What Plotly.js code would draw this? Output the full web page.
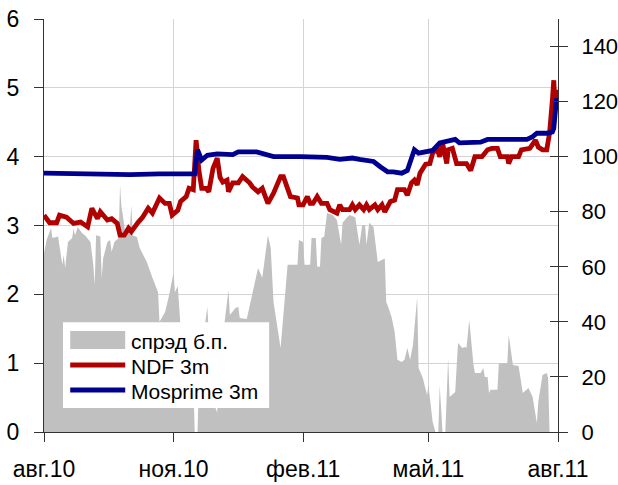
<!DOCTYPE html>
<html>
<head>
<meta charset="utf-8">
<script src="https://cdn.plot.ly/plotly-3.0.1.min.js"></script>
<style>html,body{margin:0;padding:0;background:#fff;}#chart{width:618px;height:485px;}</style>
</head>
<body>
<div id="chart"></div>
<script>
var tickDates = ["2010-08-01","2010-11-01","2011-02-01","2011-05-01","2011-08-01"];
var tickLabels = ["авг.10","ноя.10","фев.11","май.11","авг.11"];

var spreadName = "спрэд б.п.";
var spreadDates = ["2010-08-01","2010-08-03","2010-08-06","2010-08-07","2010-08-11","2010-08-14","2010-08-15","2010-08-16","2010-08-18","2010-08-21","2010-08-22","2010-08-23","2010-08-25","2010-08-28","2010-08-30","2010-09-03","2010-09-05","2010-09-06","2010-09-07","2010-09-10","2010-09-11","2010-09-12","2010-09-15","2010-09-17","2010-09-18","2010-09-20","2010-09-23","2010-09-24","2010-09-25","2010-09-26","2010-09-28","2010-09-29","2010-10-01","2010-10-02","2010-10-03","2010-10-06","2010-10-08","2010-10-13","2010-10-17","2010-10-21","2010-10-22","2010-10-26","2010-10-29","2010-11-01","2010-11-02","2010-11-04","2010-11-06","2010-11-10","2010-11-13","2010-11-15","2010-11-16","2010-11-18","2010-11-19","2010-11-21","2010-11-23","2010-11-25","2010-11-26","2010-11-29","2010-11-30","2010-12-02","2010-12-03","2010-12-07","2010-12-10","2010-12-11","2010-12-15","2010-12-17","2010-12-18","2010-12-23","2010-12-27","2010-12-31","2011-01-03","2011-01-07","2011-01-09","2011-01-11","2011-01-16","2011-01-19","2011-01-21","2011-01-28","2011-01-29","2011-02-01","2011-02-02","2011-02-06","2011-02-07","2011-02-10","2011-02-11","2011-02-13","2011-02-14","2011-02-16","2011-02-18","2011-02-22","2011-02-25","2011-02-28","2011-03-01","2011-03-04","2011-03-06","2011-03-10","2011-03-13","2011-03-15","2011-03-17","2011-03-18","2011-03-20","2011-03-23","2011-03-26","2011-03-31","2011-04-01","2011-04-02","2011-04-05","2011-04-07","2011-04-09","2011-04-12","2011-04-14","2011-04-16","2011-04-18","2011-04-20","2011-04-23","2011-04-24","2011-04-27","2011-04-30","2011-05-01","2011-05-04","2011-05-06","2011-05-08","2011-05-09","2011-05-11","2011-05-13","2011-05-15","2011-05-16","2011-05-20","2011-05-22","2011-05-25","2011-05-27","2011-05-28","2011-05-30","2011-06-02","2011-06-03","2011-06-07","2011-06-09","2011-06-10","2011-06-12","2011-06-13","2011-06-14","2011-06-19","2011-06-20","2011-06-26","2011-06-27","2011-06-30","2011-07-04","2011-07-07","2011-07-11","2011-07-14","2011-07-17","2011-07-18","2011-07-21","2011-07-24","2011-07-25","2011-07-26","2011-08-01"];
var spreadValues = [65,70,74,70.5,71,60.7,64.3,59.6,69,70.5,74,71.5,74.5,72.3,71.5,69,60.7,53.4,71.5,71,56,63,69,69.7,65.4,69,70.5,89.7,81.7,78.8,70.8,74.5,74,82.4,71.5,70.8,66.8,61.7,56,50.8,40,43.6,50,58,50.8,53,38,34,30,20,0,0,18,40,38,45.4,36,25,10,7,22,38,51.6,42.5,45,45.4,41.4,41,49.8,59.6,56,71.5,66.8,47.2,30.5,47.2,60.7,60.7,69.7,69,60.7,60.7,70.5,70.5,60,60,70.5,71,79.5,78.8,77,68,76,77.8,78.8,78,68,75.2,75.2,68,76,74.5,61.7,63,47.2,46,41.4,36.3,26.2,25.4,26.2,30.5,26.2,31.6,49,23.2,19.6,13.4,17,3.6,0,0,17,0,0,26.9,12.7,14.5,32.3,30.5,30.9,30.5,40.7,24.3,21.4,21.4,23.2,20,20,14.2,15.3,15.3,25,25,35.2,24.3,24,14.2,16,12.7,3.3,10.9,20.7,21.4,19.6,0,0];

var ndfName = "NDF 3m";
var ndfDates = ["2010-08-01","2010-08-05","2010-08-10","2010-08-12","2010-08-17","2010-08-22","2010-08-27","2010-09-01","2010-09-04","2010-09-08","2010-09-10","2010-09-15","2010-09-18","2010-09-22","2010-09-24","2010-09-27","2010-09-30","2010-10-02","2010-10-07","2010-10-10","2010-10-14","2010-10-17","2010-10-22","2010-10-26","2010-10-29","2010-10-31","2010-11-04","2010-11-06","2010-11-10","2010-11-12","2010-11-15","2010-11-17","2010-11-19","2010-11-21","2010-11-24","2010-11-26","2010-11-29","2010-12-02","2010-12-04","2010-12-06","2010-12-09","2010-12-10","2010-12-13","2010-12-17","2010-12-20","2010-12-25","2010-12-27","2010-12-31","2011-01-03","2011-01-07","2011-01-11","2011-01-16","2011-01-18","2011-01-23","2011-01-28","2011-01-29","2011-02-01","2011-02-04","2011-02-06","2011-02-08","2011-02-11","2011-02-14","2011-02-18","2011-02-20","2011-02-25","2011-02-27","2011-03-01","2011-03-06","2011-03-08","2011-03-10","2011-03-13","2011-03-16","2011-03-18","2011-03-20","2011-03-24","2011-03-26","2011-03-29","2011-03-31","2011-04-04","2011-04-07","2011-04-09","2011-04-14","2011-04-16","2011-04-19","2011-04-21","2011-04-23","2011-04-25","2011-04-29","2011-05-02","2011-05-04","2011-05-07","2011-05-09","2011-05-11","2011-05-14","2011-05-15","2011-05-18","2011-05-21","2011-05-28","2011-05-31","2011-06-03","2011-06-08","2011-06-12","2011-06-15","2011-06-19","2011-06-21","2011-06-26","2011-06-27","2011-06-29","2011-07-04","2011-07-06","2011-07-12","2011-07-16","2011-07-18","2011-07-21","2011-07-24","2011-07-26","2011-07-28","2011-07-29","2011-07-30","2011-07-31","2011-08-01"];
var ndfValues = [3.15,3.04,3.04,3.15,3.12,3.03,3.05,2.98,3.25,3.10,3.20,3.08,3.10,3.03,2.86,2.86,2.96,2.91,3.05,3.12,3.25,3.18,3.40,3.32,3.32,3.15,3.22,3.35,3.42,3.54,3.52,4.24,3.80,3.54,3.54,3.49,3.83,3.98,3.70,3.63,3.66,3.49,3.62,3.62,3.71,3.62,3.56,3.49,3.54,3.32,3.47,3.71,3.71,3.42,3.40,3.30,3.30,3.42,3.32,3.32,3.42,3.32,3.32,3.23,3.18,3.30,3.23,3.23,3.30,3.23,3.30,3.23,3.30,3.23,3.30,3.23,3.30,3.20,3.35,3.37,3.52,3.52,3.44,3.62,3.66,3.59,3.76,3.89,3.90,4.05,4.12,4.00,4.20,3.90,4.10,4.12,3.90,3.90,3.80,4.00,4.00,4.10,4.12,4.12,4.00,4.00,3.90,4.00,4.00,4.10,4.12,4.24,4.14,4.10,4.10,4.34,4.82,5.11,4.68,4.97,4.72];

var mosName = "Mosprime 3m";
var mosDates = ["2010-08-01","2010-08-19","2010-09-10","2010-10-01","2010-10-22","2010-11-16","2010-11-18","2010-11-21","2010-11-25","2010-12-02","2010-12-13","2010-12-17","2010-12-30","2011-01-06","2011-01-11","2011-01-30","2011-02-18","2011-02-27","2011-03-08","2011-03-13","2011-03-23","2011-03-28","2011-04-02","2011-04-06","2011-04-12","2011-04-16","2011-04-21","2011-04-24","2011-04-27","2011-05-04","2011-05-09","2011-05-14","2011-05-20","2011-05-23","2011-06-07","2011-06-12","2011-06-26","2011-07-10","2011-07-14","2011-07-17","2011-07-24","2011-07-28","2011-07-29","2011-07-30","2011-07-31"];
var mosValues = [3.76,3.75,3.74,3.74,3.75,3.75,4.10,3.95,4.02,4.04,4.03,4.07,4.07,4.03,4.00,4.00,3.99,3.96,3.98,3.96,3.93,3.85,3.78,3.78,3.76,3.80,4.10,4.05,4.06,4.09,4.20,4.22,4.25,4.20,4.21,4.25,4.25,4.25,4.29,4.34,4.34,4.36,4.41,4.72,4.85];

var FONT = '"Liberation Sans", Arial, sans-serif';
var AXC = '#333333';
var GRID = '#d4d4d4';
var GREY = '#c0c0c0', RED = '#b00000', BLUE = '#000090';

var traces = [
  {x: spreadDates, y: spreadValues, type: 'scatter', mode: 'lines', fill: 'tozeroy',
   fillcolor: GREY, line: {width: 0, color: GREY}, yaxis: 'y', showlegend: false, name: spreadName},
  {x: ndfDates, y: ndfValues, type: 'scatter', mode: 'lines', line: {width: 4.8, color: RED},
   yaxis: 'y2', showlegend: false, name: ndfName},
  {x: mosDates, y: mosValues, type: 'scatter', mode: 'lines', line: {width: 4.8, color: BLUE},
   yaxis: 'y2', showlegend: false, name: mosName},
  {x: [null], y: [null], type: 'scatter', mode: 'lines', yaxis: 'y3', showlegend: false, hoverinfo: 'skip'}
];

// legend box drawn in paper coordinates
var LX0 = 0.037, LX1 = 0.438, LY0 = 0.058, LY1 = 0.266;
var SX0 = 0.051, SX1 = 0.158, TX = 0.168;
var rowY = [0.2228, 0.1622, 0.1017];
var shapes = [
  {type: 'rect', xref: 'paper', yref: 'paper', x0: LX0, x1: LX1, y0: LY0, y1: LY1, fillcolor: '#ffffff', line: {width: 0}},
  {type: 'rect', xref: 'paper', yref: 'paper', x0: SX0, x1: SX1, y0: rowY[0] - 0.022, y1: rowY[0] + 0.022, fillcolor: GREY, line: {width: 0}},
  {type: 'line', xref: 'paper', yref: 'paper', x0: SX0, x1: SX1, y0: rowY[1], y1: rowY[1], line: {width: 5, color: RED}},
  {type: 'line', xref: 'paper', yref: 'paper', x0: SX0, x1: SX1, y0: rowY[2], y1: rowY[2], line: {width: 5, color: BLUE}}
];
var legendNames = [spreadName, ndfName, mosName];
var annotations = legendNames.map(function (n, i) {
  return {xref: 'paper', yref: 'paper', x: TX, y: rowY[i] - 0.004, xanchor: 'left', yanchor: 'middle', text: n,
          showarrow: false, borderpad: 0, font: {family: FONT, size: 21, color: '#000000'}};
});

var layout = {
  width: 618, height: 485,
  margin: {l: 44, r: 60, t: 19, b: 53},
  paper_bgcolor: '#ffffff', plot_bgcolor: '#ffffff',
  font: {family: FONT, size: 23, color: '#000000'},
  showlegend: false,
  shapes: shapes,
  annotations: annotations,
  xaxis: {type: 'date', range: ['2010-08-01', '2011-08-01'], tickmode: 'array', tickvals: tickDates, ticktext: tickLabels,
          showgrid: true, gridcolor: GRID, gridwidth: 1, showline: true, linecolor: AXC, linewidth: 1,
          ticks: 'outside', ticklen: 9, tickcolor: AXC, tickfont: {family: FONT, size: 23},
          ticklabelstandoff: 7, zeroline: false, fixedrange: true},
  yaxis: {range: [0, 150], tick0: 0, dtick: 20, side: 'right', showgrid: false, zeroline: false,
          showline: true, linecolor: AXC, linewidth: 1, ticks: 'outside', ticklen: 9, tickcolor: AXC,
          tickfont: {family: FONT, size: 22}, ticklabelstandoff: 9, fixedrange: true},
  yaxis2: {range: [0, 6], tick0: 0, dtick: 1, side: 'left', overlaying: 'y', showgrid: true, gridcolor: GRID,
           zeroline: false, showline: true, linecolor: AXC, linewidth: 1, ticks: 'outside', ticklen: 9,
           tickcolor: AXC, tickfont: {family: FONT, size: 23}, ticklabelstandoff: 10, fixedrange: true},
  yaxis3: {range: [0, 150], tick0: 0, dtick: 20, side: 'right', overlaying: 'y', showgrid: false, zeroline: false,
           showline: false, ticks: 'inside', ticklen: 8, tickcolor: AXC, showticklabels: false, fixedrange: true}
};

Plotly.newPlot('chart', traces, layout, {displayModeBar: false, staticPlot: true});
</script>
</body>
</html>
